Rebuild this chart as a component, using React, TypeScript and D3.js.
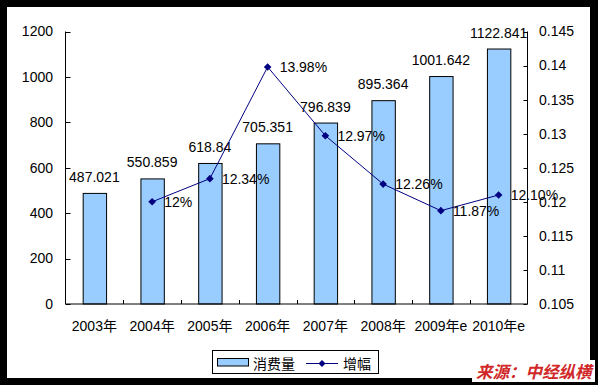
import { useMemo } from "react";
import * as d3 from "d3";

const WIDTH = 598;
const HEIGHT = 385;
const PLOT = { left: 65.5, right: 527.5, top: 31.5, bottom: 304 };

const YEARS = ["2003年", "2004年", "2005年", "2006年", "2007年", "2008年", "2009年e", "2010年e"];
const CONSUMPTION = [487.021, 550.859, 618.84, 705.351, 796.839, 895.364, 1001.642, 1122.841];
const CONSUMPTION_LABELS = ["487.021", "550.859", "618.84", "705.351", "796.839", "895.364", "1001.642", "1122.841"];
const GROWTH = [null, 0.12, 0.1234, 0.1398, 0.1297, 0.1226, 0.1187, 0.121];
const GROWTH_LABELS = ["", "12%", "12.34%", "13.98%", "12.97%", "12.26%", "11.87%", "12.10%"];
const LEFT_TICKS = [0, 200, 400, 600, 800, 1000, 1200];
const RIGHT_TICKS = [0.105, 0.11, 0.115, 0.12, 0.125, 0.13, 0.135, 0.14, 0.145];

const FONT = "'Liberation Sans', Arial, 'Noto Sans CJK SC', sans-serif";
const BAR_FILL = "#99ccff";
const LINE_COLOR = "#000080";

function diamond(cx: number, cy: number, r: number) {
  return `M${cx},${cy - r}L${cx + r},${cy}L${cx},${cy + r}L${cx - r},${cy}Z`;
}

export default function App() {
  const x = useMemo(
    () => d3.scaleBand().domain(YEARS).range([PLOT.left, PLOT.right]).paddingInner(0.595).paddingOuter(0.2975),
    []
  );
  const yLeft = useMemo(() => d3.scaleLinear().domain([0, 1200]).range([PLOT.bottom, PLOT.top]), []);
  const yRight = useMemo(() => d3.scaleLinear().domain([0.105, 0.145]).range([PLOT.bottom, PLOT.top]), []);

  const step = (PLOT.right - PLOT.left) / YEARS.length;
  const cx = (d: string) => (x(d) ?? 0) + x.bandwidth() / 2;

  const linePts = GROWTH.map((g, i) => ({ g, i })).filter((p) => p.g !== null) as { g: number; i: number }[];
  const line = d3
    .line<{ g: number; i: number }>()
    .x((p) => cx(YEARS[p.i]))
    .y((p) => yRight(p.g));

  return (
    <div style={{ position: "fixed", left: 0, top: 0 }}>
      <svg width={WIDTH} height={HEIGHT} style={{ display: "block", fontFamily: FONT }}>
        <rect x={0} y={0} width={WIDTH} height={HEIGHT} fill="#000" />
        <rect x={7} y={7} width={583} height={371} fill="#fff" />

        {/* bars */}
        {CONSUMPTION.map((v, i) => (
          <rect
            key={YEARS[i]}
            x={(x(YEARS[i]) ?? 0) + 0.5}
            y={yLeft(v)}
            width={x.bandwidth()}
            height={PLOT.bottom - yLeft(v)}
            fill={BAR_FILL}
            stroke="#000"
            strokeWidth={1}
          />
        ))}

        {/* axes */}
        <line x1={PLOT.left} x2={PLOT.left} y1={PLOT.top} y2={PLOT.bottom} stroke="#000" />
        <line x1={PLOT.right} x2={PLOT.right} y1={PLOT.top} y2={PLOT.bottom} stroke="#000" />
        <line x1={PLOT.left} x2={PLOT.right} y1={PLOT.bottom} y2={PLOT.bottom} stroke="#000" />
        {LEFT_TICKS.map((t) => (
          <g key={`l${t}`}>
            <line x1={PLOT.left} x2={PLOT.left + 5} y1={Math.round(yLeft(t)) + 0.5} y2={Math.round(yLeft(t)) + 0.5} stroke="#000" />
            <text x={53} y={yLeft(t)} dy="0.35em" textAnchor="end" fontSize={14}>
              {t}
            </text>
          </g>
        ))}
        {RIGHT_TICKS.map((t) => (
          <g key={`r${t}`}>
            <line x1={PLOT.right - 4} x2={PLOT.right} y1={Math.round(yRight(t)) + 0.5} y2={Math.round(yRight(t)) + 0.5} stroke="#000" />
            <text x={539} y={yRight(t)} dy="0.35em" fontSize={14}>
              {String(+t.toFixed(3))}
            </text>
          </g>
        ))}
        {YEARS.map((d, i) =>
          i === 0 ? null : (
            <line
              key={`t${d}`}
              x1={Math.round(PLOT.left + step * i) + 0.5}
              x2={Math.round(PLOT.left + step * i) + 0.5}
              y1={PLOT.bottom - 4}
              y2={PLOT.bottom}
              stroke="#000"
            />
          )
        )}
        {YEARS.map((d) => (
          <text key={`x${d}`} x={cx(d)} y={331} textAnchor="middle" fontSize={14}>
            {d}
          </text>
        ))}

        {/* bar labels */}
        {CONSUMPTION.map((v, i) => (
          <text key={`bl${i}`} x={cx(YEARS[i])} y={yLeft(v) - 11.5} textAnchor="middle" fontSize={14}>
            {CONSUMPTION_LABELS[i]}
          </text>
        ))}

        {/* growth line */}
        <path d={line(linePts) ?? ""} fill="none" stroke={LINE_COLOR} strokeWidth={1} />
        {linePts.map((p) => (
          <path key={`m${p.i}`} d={diamond(cx(YEARS[p.i]), yRight(p.g), 3.8)} fill={LINE_COLOR} />
        ))}
        {linePts.map((p) => (
          <text key={`gl${p.i}`} x={cx(YEARS[p.i]) + 12} y={yRight(p.g)} dy="0.35em" fontSize={14}>
            {GROWTH_LABELS[p.i]}
          </text>
        ))}

        {/* legend */}
        <rect x={212.5} y={350.5} width={166} height={23} fill="#fff" stroke="#000" />
        <rect x={217.5} y={358.5} width={31} height={7.5} fill={BAR_FILL} stroke="#000" />
        <text x={253} y={369} fontSize={14}>消费量</text>
        <line x1={306} x2={338} y1={363.5} y2={363.5} stroke={LINE_COLOR} />
        <path d={diamond(322, 363.5, 3.5)} fill={LINE_COLOR} />
        <text x={343} y={369} fontSize={14}>增幅</text>

        {/* source */}
        <rect x={472} y={360} width={123} height={22} fill="#fff" />
        <text
          x={476}
          y={378}
          fontSize={16.5}
          fontWeight="bold"
          fontStyle="italic"
          fill="#d02828"
          style={{ fontFamily: "'Noto Sans CJK SC', sans-serif" }}
        >
          来源：中经纵横
        </text>
      </svg>
    </div>
  );
}
